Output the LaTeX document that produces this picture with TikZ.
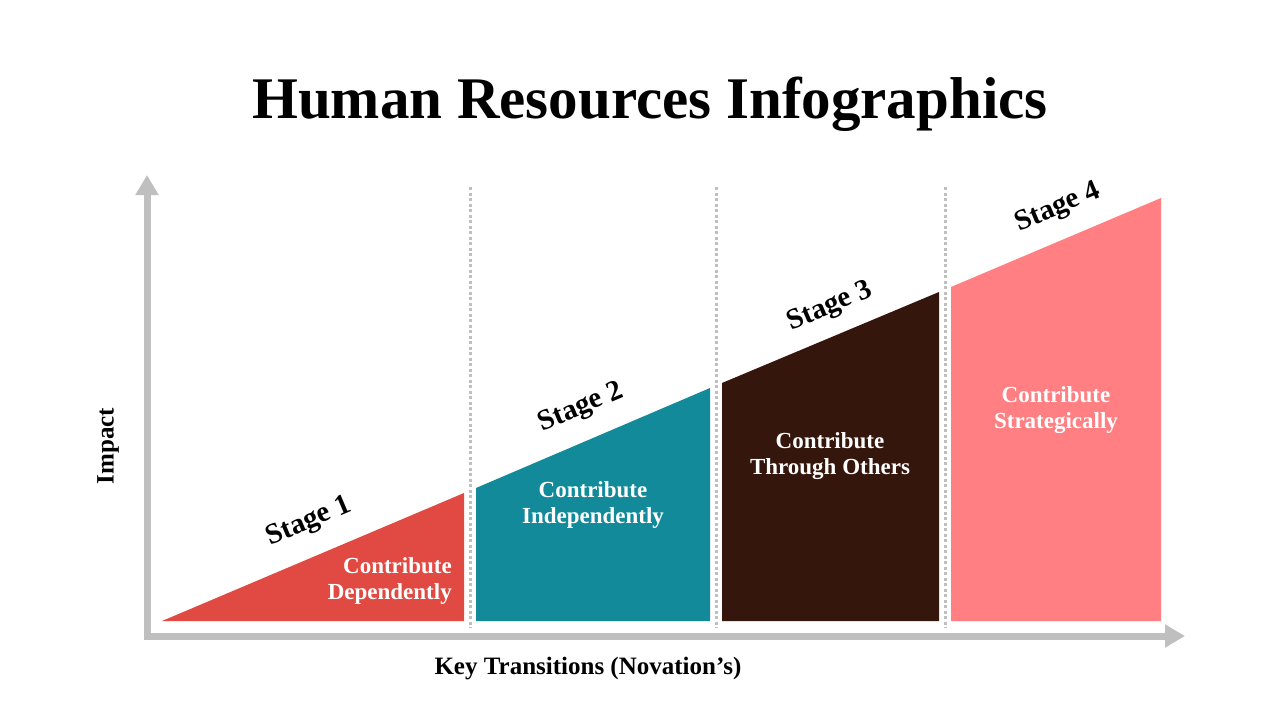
\documentclass[tikz,border=0pt]{standalone}
\usepackage{fontspec}
\setmainfont{Liberation Serif}
\usetikzlibrary{arrows.meta}
\definecolor{stred}{HTML}{E04A42}
\definecolor{stteal}{HTML}{138A99}
\definecolor{stbrown}{HTML}{35160C}
\definecolor{stpink}{HTML}{FF7F82}
\definecolor{axisgray}{HTML}{BFBFBF}
\tikzset{
  axisline/.style={draw=axisgray, line width=7pt, line join=miter,
    {Triangle[length=20pt,width=22pt]}-{Triangle[length=20pt,width=22pt]}},
  sepline/.style={draw=axisgray, line width=3pt, dash pattern=on 3pt off 2.5pt},
  stagelbl/.style={font=\fontsize{29}{32}\selectfont\bfseries, text=black, rotate=23, inner sep=0pt},
  boxtxt/.style={font=\fontsize{23}{26}\selectfont\bfseries, text=white, align=center, inner sep=0pt},
  axislbl/.style={font=\fontsize{25}{28}\selectfont\bfseries, text=black, inner sep=0pt}
}
\begin{document}
\begin{tikzpicture}[x=1pt,y=-1pt]
\useasboundingbox (0,0) rectangle (1280,720);
\fill[white] (0,0) rectangle (1280,720);
% title
\node[font=\fontsize{59}{64}\selectfont\bfseries, inner sep=0pt] (title) at (650,104) {Human Resources Infographics};
% separators
\coordinate (s1t) at (470,187); \coordinate (s1b) at (470,628);
\coordinate (s2t) at (716,187); \coordinate (s2b) at (716,628);
\coordinate (s3t) at (945,187); \coordinate (s3b) at (945,628);
\draw[sepline] (s1t) -- (s1b);
\draw[sepline] (s2t) -- (s2b);
\draw[sepline] (s3t) -- (s3b);
% shapes
\fill[stred] (162,621) -- (464,621) -- (464,493) -- cycle;
\fill[stteal] (476,621) -- (476,488) -- (710,388) -- (710,621) -- cycle;
\fill[stbrown] (722,621) -- (722,383) -- (939,292) -- (939,621) -- cycle;
\fill[stpink] (951,621) -- (951,287) -- (1161,198) -- (1161,621) -- cycle;
% axes
\coordinate (ytip) at (147,175);
\coordinate (corner) at (147,636);
\coordinate (xtip) at (1185,636);
\draw[axisline] (ytip) -- (corner) -- (xtip);
% stage labels
\node[stagelbl] (st1) at (309,522) {Stage 1};
\node[stagelbl] (st2) at (581,408) {Stage 2};
\node[stagelbl] (st3) at (830,307) {Stage 3};
\node[stagelbl] (st4) at (1058,208) {Stage 4};
% box texts
\node[boxtxt, align=right, anchor=east] (t1) at (452,581) {Contribute\\Dependently};
\node[boxtxt] (t2) at (593,505) {Contribute\\Independently};
\node[boxtxt] (t3) at (830,456) {Contribute\\Through Others};
\node[boxtxt] (t4) at (1056,410) {Contribute\\Strategically};
% axis labels
\node[axislbl, rotate=90] (ylbl) at (108,446) {Impact};
\node[axislbl] (xlbl) at (588,669) {Key Transitions (Novation’s)};
\end{tikzpicture}
\end{document}
